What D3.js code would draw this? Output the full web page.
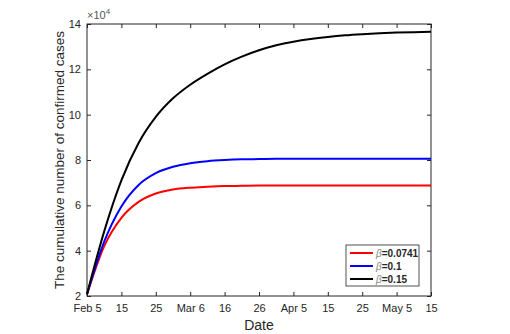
<!DOCTYPE html>
<html>
<head>
<meta charset="utf-8">
<script src="https://cdn.jsdelivr.net/npm/d3@7"></script>
<style>
  body { margin: 0; background: #fff; }
  svg text { font-family: "Liberation Sans", Arial, sans-serif; fill: #262626; }
</style>
</head>
<body>
<div class="chart-container"></div>
<script>
// days after Feb 5, 2020
const days = [0, 5, 10, 15, 20, 25, 30, 35, 40, 45, 50, 55, 60, 65, 70, 75, 80, 85, 90, 95, 100];
// cumulative cases, in units of 10^4
const red = [2.08, 4.2, 5.45, 6.15, 6.52, 6.7, 6.78, 6.82, 6.85, 6.86, 6.87, 6.87, 6.87, 6.87, 6.87, 6.87, 6.87, 6.87, 6.87, 6.87, 6.87];
const blue = [2.08, 4.4, 5.95, 6.9, 7.42, 7.7, 7.86, 7.95, 8.0, 8.03, 8.04, 8.05, 8.05, 8.05, 8.05, 8.05, 8.05, 8.05, 8.05, 8.05, 8.05];
const black = [2.08, 4.85, 7.1, 8.75, 9.9, 10.72, 11.32, 11.8, 12.22, 12.56, 12.84, 13.06, 13.22, 13.34, 13.43, 13.5, 13.55, 13.59, 13.62, 13.64, 13.66];
const seriesNames = ['\u03b2=0.0741', '\u03b2=0.1', '\u03b2=0.15'];
const seriesColors = ['#ff0000', '#0000ff', '#000000'];
const xTickLabels = ['Feb 5', '15', '25', 'Mar 6', '16', '26', 'Apr 5', '15', '25', 'May 5', '15'];
const yTicks = [2, 4, 6, 8, 10, 12, 14];

const margin = { top: 24, right: 79, bottom: 38, left: 87 };
const width = 510 - margin.left - margin.right;
const height = 334 - margin.top - margin.bottom;

const svg = d3.select('.chart-container')
    .append('svg')
    .attr('width', 510)
    .attr('height', 334)
    .append('g')
    .attr('transform', `translate(${margin.left}, ${margin.top})`);

const xScale = d3.scaleLinear().domain([0, 100]).range([0, width]);
const yScale = d3.scaleLinear().domain([2, 14]).range([height, 0]);

const xTickVals = xTickLabels.map((d, i) => i * 10);

// axes, ticks pointing inward like matlab
const axisColor = '#262626';
function styleAxis(g) {
    g.select('.domain').remove();
    g.selectAll('line').attr('stroke', axisColor);
    g.selectAll('text').style('font-size', '11px');
}

svg.append('g')
    .attr('transform', `translate(0, ${height})`)
    .call(d3.axisBottom(xScale).tickValues(xTickVals).tickSize(-4).tickPadding(8)
        .tickFormat((d, i) => xTickLabels[i]))
    .call(styleAxis);

svg.append('g')
    .call(d3.axisTop(xScale).tickValues(xTickVals).tickSize(-4).tickFormat(''))
    .call(styleAxis);

svg.append('g')
    .call(d3.axisLeft(yScale).tickValues(yTicks).tickSize(-4).tickPadding(6))
    .call(styleAxis);

svg.append('g')
    .attr('transform', `translate(${width}, 0)`)
    .call(d3.axisRight(yScale).tickValues(yTicks).tickSize(-4).tickFormat(''))
    .call(styleAxis);

svg.append('rect')
    .attr('width', width)
    .attr('height', height)
    .attr('fill', 'none')
    .attr('stroke', axisColor)
    .attr('stroke-width', 1);

// curves
const line = d3.line()
    .x((d, i) => xScale(days[i]))
    .y(d => yScale(d))
    .curve(d3.curveMonotoneX);

[red, blue, black].forEach((s, k) => {
    svg.append('path')
        .datum(s)
        .attr('fill', 'none')
        .attr('stroke', seriesColors[k])
        .attr('stroke-width', 2)
        .attr('d', line);
});

// exponent label
const expo = svg.append('text')
    .attr('x', 0)
    .attr('y', -5)
    .style('font-size', '11px')
    .style('fill', '#555');
expo.append('tspan').text('\u00d710');
expo.append('tspan').attr('dy', -5).style('font-size', '8px').text('4');

// axis labels
svg.append('text')
    .attr('x', width / 2)
    .attr('y', height + 34)
    .style('text-anchor', 'middle')
    .style('font-size', '14px')
    .text('Date');

svg.append('text')
    .attr('transform', 'rotate(-90)')
    .attr('x', -height / 2)
    .attr('y', -23)
    .style('text-anchor', 'middle')
    .style('font-size', '13.5px')
    .text('The cumulative number of confirmed cases');

// legend
const legend = svg.append('g').attr('transform', `translate(${259}, ${221})`);
legend.append('rect')
    .attr('width', 73)
    .attr('height', 41)
    .attr('fill', '#fff')
    .attr('stroke', axisColor)
    .attr('stroke-width', 0.8);

seriesNames.forEach((name, k) => {
    const y = 8 + k * 13;
    legend.append('line')
        .attr('x1', 4).attr('x2', 27)
        .attr('y1', y).attr('y2', y)
        .attr('stroke', seriesColors[k])
        .attr('stroke-width', 2);
    const t = legend.append('text')
        .attr('x', 30)
        .attr('y', y + 3.5)
        .style('font-size', '10px')
        .style('font-weight', 'bold');
    t.append('tspan').style('font-style', 'italic').style('font-weight', 'normal').style('fill', '#888').text('\u03b2');
    t.append('tspan').text(name.slice(1));
});
</script>
</body>
</html>
